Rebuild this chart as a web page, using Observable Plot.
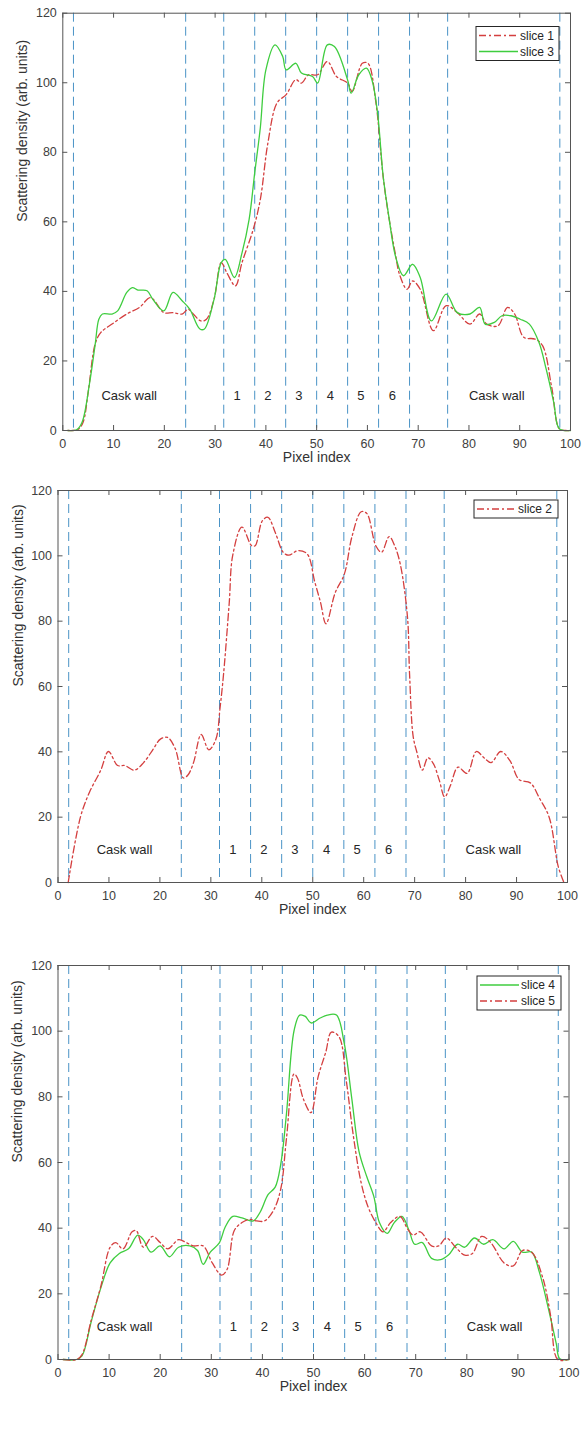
<!DOCTYPE html>
<html><head><meta charset="utf-8">
<script src="https://cdn.jsdelivr.net/npm/d3@7"></script>
<script src="https://cdn.jsdelivr.net/npm/@observablehq/plot@0.6"></script>
<style>
body{margin:0;background:#fff;}
#chart{width:582px;}
#chart svg{display:block;}
</style></head><body><div id="chart"></div>
<script>
// ---- tick labels / annotations ----
const xTicks = [0, 10, 20, 30, 40, 50, 60, 70, 80, 90, 100];
const yTicks = [0, 20, 40, 60, 80, 100, 120];
const boundaries = [2.1, 24.2, 31.7, 37.8, 43.9, 50, 56.1, 62.2, 68.3, 75.8, 97.9];
const regionNames = ["Cask wall", "1", "2", "3", "4", "5", "6", "Cask wall"];
const regionStart = [7.6, 33.6, 39.7, 45.8, 52.0, 58.0, 64.2, 80.0];
const regionLevel = 10;
const xLabel = "Pixel index";
const yLabel = "Scattering density (arb. units)";

// ---- series ----
const slice1X = [1, 2, 3, 4, 5, 6.4, 7.5, 9.7, 12.6, 15.1, 17.3, 19.9, 21.7, 23.5, 24.7, 25.7, 27.2, 28.3, 29.8, 31.2, 32.3, 34, 35.3, 37.5, 38.9, 40.4, 42.2, 44, 45.9, 47, 48.4, 50.2, 52.1, 53.9, 56.1, 57, 59, 60.1, 61.6, 63.1, 64.2, 65.6, 66.3, 67.8, 68.9, 70.4, 73, 75.5, 77.7, 80.2, 82.1, 83.5, 85.7, 87.6, 89, 90.8, 93, 94.5, 96.3, 97.8, 99, 100];
const slice1Y = [0, 0, 0.3, 2.4, 11, 25, 28.2, 30.6, 33.5, 35.4, 38.2, 33.9, 33.9, 33.5, 34.9, 33.5, 31.5, 32, 37.8, 48.3, 45.4, 41.6, 48.3, 57.8, 66.4, 82.7, 94.2, 96.6, 100.9, 99.9, 102.3, 102.3, 106.1, 101.8, 99.9, 97.5, 105.6, 105.6, 95.1, 73, 61.5, 50, 45, 40.6, 43, 40.6, 28.7, 35.9, 33.9, 30.6, 33.5, 30.6, 30.1, 35.4, 33.5, 26.8, 26.3, 24.4, 12.4, 0.5, 0, 0];

const slice3X = [1, 2.7, 3.8, 5.3, 6.4, 7.1, 7.8, 9.7, 10.8, 12.6, 13.7, 14.8, 16.6, 17.7, 19.9, 21.7, 23.5, 25, 27, 27.9, 29.8, 31.2, 32, 33.8, 35.3, 36.7, 37.8, 38.9, 40, 41.8, 43.3, 44, 45.9, 47, 49.2, 50.2, 52.1, 53.5, 56.1, 56.8, 58.3, 59.8, 60.9, 62, 63.1, 64.2, 65.6, 67.1, 68.9, 70.4, 72.6, 75.5, 77.7, 80.2, 82.1, 83.2, 85, 86.5, 88.3, 90.1, 91.9, 93.8, 95.2, 96.7, 97.8, 100];
const slice3Y = [0, 0.2, 2.4, 13.9, 25, 32, 33.5, 33.5, 34.4, 39.7, 41.1, 40.4, 40.2, 37.8, 34.4, 39.7, 37.3, 34.9, 29.2, 29.2, 37.8, 48.3, 49.2, 44, 51.1, 60.7, 74.1, 87, 103.7, 110.9, 107.6, 103.7, 105.6, 102.8, 101.8, 99.9, 110.9, 110.4, 100.8, 97, 102.3, 104.2, 100.8, 91.3, 73.1, 61.7, 49.7, 44.5, 47.8, 44, 31.5, 39.2, 33.9, 33.5, 35.4, 30.6, 31.1, 33, 33, 32, 30.6, 25.3, 17.7, 8.1, 0.5, 0];

const slice2X = [2, 4.4, 6.2, 8.4, 9.9, 11.7, 13.1, 15, 16.8, 18.6, 20.1, 21.5, 23, 24.6, 25.5, 26.6, 28.1, 29.6, 31, 31.8, 32.5, 33.6, 34.3, 36.1, 38, 38.7, 40.1, 41.2, 42.7, 44.2, 45.3, 47.1, 48.9, 50.4, 51.5, 52.6, 54.4, 56.2, 57.7, 59.5, 60.6, 62.4, 63.5, 65, 66.1, 67.2, 68.6, 69, 69.7, 70.4, 71.5, 72.6, 73.7, 74.8, 75.9, 77, 78.5, 80.3, 82.1, 83.6, 85, 86.9, 88.7, 90.5, 92.7, 94.5, 96.4, 98.2, 99.3];
const slice2Y = [0, 20, 27.7, 34.4, 40.1, 35.8, 35.8, 34.4, 36.7, 40.6, 43.9, 44.4, 41, 32, 32.9, 36.7, 45.3, 40.6, 43.9, 53.4, 63.9, 85.4, 100.2, 108.8, 103.1, 103.1, 110.7, 111.8, 106.9, 101.1, 100.2, 101.6, 100.6, 92, 85.9, 79.2, 88.7, 94.4, 105.9, 113.5, 113, 103, 101.1, 105.9, 103, 97.3, 81.1, 63.9, 44.8, 40.1, 34.4, 38.2, 36.3, 31.5, 26.2, 29.6, 35.3, 33.4, 40.1, 38.2, 36.7, 40.1, 37.3, 31.5, 30.5, 25.8, 20, 4.8, 0];

const slice4X = [1, 3.6, 4.7, 6.5, 8.4, 10.2, 12, 13.8, 15.6, 16.7, 18.2, 20, 21.8, 23.6, 25.8, 27.3, 28.4, 29.8, 31.6, 32.7, 34.2, 36, 38.2, 39.6, 41.1, 42.5, 43.6, 44.7, 46.2, 47.3, 48.4, 49.5, 51.3, 52.7, 54.5, 56, 57.5, 58.9, 60.4, 61.8, 62.9, 64.4, 65.8, 67.3, 68.7, 69.8, 71.3, 73.1, 74.9, 76.4, 78.2, 79.6, 81.5, 83.3, 85.1, 87.3, 89.1, 90.9, 92.7, 94.2, 96, 97.5, 98.2, 100];
const slice4Y = [0, 0, 1.1, 11.5, 21.9, 29.4, 32.3, 33.7, 37.9, 36.5, 32.7, 34.6, 31.3, 34.2, 34.6, 33.2, 29, 32.7, 35.6, 40.3, 43.6, 43.1, 42.2, 45, 50.2, 52.5, 59.6, 74.7, 100.2, 104.9, 104.5, 102.5, 104, 104.9, 104.9, 96.4, 79.4, 63.4, 55.8, 49.7, 41.7, 38.4, 41.7, 43.6, 39.3, 35.1, 35.6, 30.8, 30.4, 31.8, 35.1, 34.2, 37, 35.1, 36.5, 33.7, 36, 32.7, 32.7, 26.6, 15.3, 4.9, 0.2, 0];

const slice5X = [1, 3.6, 4.7, 6.5, 8.4, 10.2, 11.3, 12.7, 14.5, 15.3, 16.7, 18.5, 20, 21.5, 23.6, 25.1, 26.5, 28.4, 30.2, 32, 33.1, 34.5, 36, 37.5, 38.9, 40.4, 42.2, 43.6, 44.7, 46.2, 46.9, 48, 49.5, 50.9, 52.4, 53.5, 55, 56.4, 57.8, 59.3, 60.7, 62.2, 63.6, 65.1, 66.9, 68.4, 69.5, 70.9, 73.1, 74.5, 76, 77.8, 79.6, 81.1, 82.9, 84.7, 87.3, 89.1, 90.9, 92.7, 94.9, 96.4, 97.8, 100];
const slice5Y = [0, 0, 1.5, 12, 22.4, 34.2, 35.6, 33.7, 38.9, 39.3, 34.2, 37.5, 35.6, 33.7, 36.5, 35.6, 34.6, 34.6, 29.4, 25.7, 27.5, 39.3, 41.7, 42.7, 42.2, 42.2, 45.5, 52, 67.2, 87, 85.6, 79.4, 75.2, 86.1, 93.6, 99.7, 98.3, 85.1, 68.1, 54, 46.4, 41.7, 38.9, 41.7, 43.6, 39.8, 37.9, 38.9, 34.6, 34.6, 37, 34.2, 31.8, 32.3, 37.5, 35.6, 29.4, 28.5, 33.2, 32.7, 24.7, 13.4, 0, 0];

// ---- styles ----
const GREEN = "#3fcd3f";
const RED = "#d43f3f";
const DASHDOT = "7,3,2,3";
const BLUE = "#4a93c6";
const AXIS = "#555";
const FONT = "'Liberation Sans', Arial, Helvetica, sans-serif";

const styles = {
  "slice 1": {stroke: RED, dash: DASHDOT},
  "slice 2": {stroke: RED, dash: DASHDOT},
  "slice 3": {stroke: GREEN, dash: null},
  "slice 4": {stroke: GREEN, dash: null},
  "slice 5": {stroke: RED, dash: DASHDOT}
};

function rows(name, xs, ys) { return xs.map((x, i) => ({series: name, x, y: ys[i]})); }

const regions = regionNames.map((t, i) => ({text: t, x: regionStart[i], y: regionLevel}));

function panel(cfg) {
  const {height, mt, mb, ml, mr, series, legend, ylabDx} = cfg;
  const W = 582 - ml - mr;
  const H = height - mt - mb;
  const marks = [
    Plot.ruleX(boundaries, {x: d => d, stroke: BLUE, strokeWidth: 1, strokeDasharray: "9,5"}),
    Plot.text(regions, {x: "x", y: "y", text: "text", textAnchor: "start", fontSize: 13, fill: "#262626"}),
  ];
  for (const s of series) {
    const st = styles[s.name];
    marks.push(Plot.line(s.data, {x: "x", y: "y", stroke: st.stroke, strokeWidth: 1.3, strokeDasharray: st.dash, curve: "catmull-rom"}));
  }
  marks.push(
    Plot.tickX(xTicks, {x: d => d, insetTop: H - 5, stroke: AXIS}),
    Plot.tickX(xTicks, {x: d => d, insetBottom: H - 5, stroke: AXIS}),
    Plot.tickY(yTicks, {y: d => d, insetRight: W - 5, stroke: AXIS}),
    Plot.tickY(yTicks, {y: d => d, insetLeft: W - 5, stroke: AXIS}),
    Plot.frame({stroke: AXIS, strokeWidth: 1}),
    Plot.axisX({ticks: xTicks, tickSize: 0, tickPadding: 8.5, label: null, fontSize: 12.5, fill: "#404040"}),
    Plot.axisY({ticks: yTicks, tickSize: 0, tickPadding: 6, label: null, fontSize: 12.5, fill: "#404040"}),
    Plot.text([xLabel], {text: d => d, frameAnchor: "bottom", dy: 31, fontSize: 14, fill: "#333"}),
    Plot.text([yLabel], {text: d => d, frameAnchor: "left", dx: ylabDx, rotate: -90, fontSize: 14, fill: "#333"})
  );
  const svg = Plot.plot({
    width: 582, height,
    marginTop: mt, marginBottom: mb, marginLeft: ml, marginRight: mr,
    x: {domain: [0, 100]},
    y: {domain: [0, 120]},
    style: {fontFamily: FONT, background: "white", overflow: "visible"},
    marks
  });
  // legend box inside the axes
  const g = d3.select(svg).append("g").attr("font-family", FONT).attr("text-anchor", "start");
  const n = legend.items.length;
  g.append("rect").attr("x", legend.x).attr("y", legend.y).attr("width", legend.w)
    .attr("height", 2 + 16 * n).attr("fill", "white").attr("stroke", "#262626").attr("stroke-width", 1);
  legend.items.forEach((name, i) => {
    const st = styles[name];
    const cy = legend.y + 9 + 16 * i;
    g.append("line").attr("x1", legend.x + 3).attr("x2", legend.x + 42).attr("y1", cy).attr("y2", cy)
      .attr("stroke", st.stroke).attr("stroke-width", 1.3).attr("stroke-dasharray", st.dash);
    g.append("text").attr("x", legend.x + 44).attr("y", cy).attr("dy", "0.35em")
      .attr("text-anchor", "start").attr("font-size", 12).attr("fill", "#262626").text(name);
  });
  return svg;
}

const chart = document.getElementById("chart");
chart.appendChild(panel({
  height: 470, mt: 12.7, mb: 40, ml: 62.3, mr: 12, ylabDx: -40,
  series: [{name: "slice 1", data: rows("slice 1", slice1X, slice1Y)}, {name: "slice 3", data: rows("slice 3", slice3X, slice3Y)}],
  legend: {x: 476, y: 26.5, w: 83, items: ["slice 1", "slice 3"]}
}));
chart.appendChild(panel({
  height: 480, mt: 20, mb: 68, ml: 57.5, mr: 15, ylabDx: -39,
  series: [{name: "slice 2", data: rows("slice 2", slice2X, slice2Y)}],
  legend: {x: 474, y: 30, w: 84, items: ["slice 2"]}
}));
chart.appendChild(panel({
  height: 480, mt: 15, mb: 71, ml: 57.5, mr: 13.5, ylabDx: -40,
  series: [{name: "slice 4", data: rows("slice 4", slice4X, slice4Y)}, {name: "slice 5", data: rows("slice 5", slice5X, slice5Y)}],
  legend: {x: 477, y: 26, w: 84, items: ["slice 4", "slice 5"]}
}));
</script></body></html>
